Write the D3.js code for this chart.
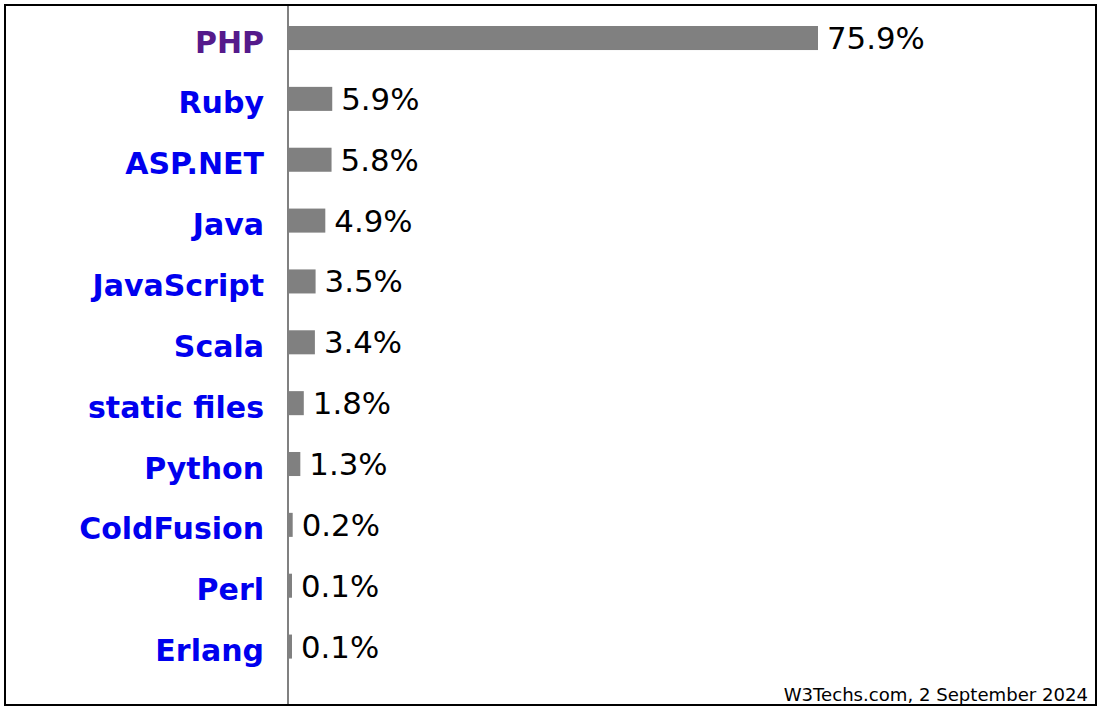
<!DOCTYPE html>
<html>
<head>
<meta charset="utf-8">
<script src="https://cdn.jsdelivr.net/npm/d3@7"></script>
<style>
  html, body { margin: 0; padding: 0; background: #fff; }
  svg { display: block; }
</style>
</head>
<body>
<script>
// server-side languages, share of websites
const languages = ["PHP", "Ruby", "ASP.NET", "Java", "JavaScript", "Scala",
  "static files", "Python", "ColdFusion", "Perl", "Erlang"];
const shares = [75.9, 5.9, 5.8, 4.9, 3.5, 3.4, 1.8, 1.3, 0.2, 0.1, 0.1];
const visited = ["PHP"];
const footer = "W3Techs.com, 2 September 2024";

const width = 1105, height = 709;
const axisX = 288;

const data = languages.map((d, i) => ({name: d, value: shares[i]}));

const svg = d3.select("body").append("svg")
  .attr("width", width)
  .attr("height", height);

const y = d3.scaleBand()
  .domain(languages)
  .range([7.6, 677])
  .paddingInner(0.605)
  .paddingOuter(0.3025);

// bars start a few pixels out from the axis even for tiny values
const x = d3.scaleLinear()
  .domain([0, 75.9])
  .range([3.3, 530]);

svg.append("g")
  .attr("fill", "#808080")
  .selectAll("rect")
  .data(data)
  .join("rect")
    .attr("x", axisX)
    .attr("y", d => y(d.name))
    .attr("width", d => x(d.value))
    .attr("height", y.bandwidth());

svg.append("line")
  .attr("x1", axisX).attr("x2", axisX)
  .attr("y1", 5).attr("y2", 705)
  .attr("stroke", "#808080")
  .attr("stroke-width", 2);

svg.append("g")
  .attr("font-family", "DejaVu Sans, Verdana, sans-serif")
  .attr("font-weight", "bold")
  .attr("font-size", 30)
  .attr("text-anchor", "end")
  .selectAll("text")
  .data(data)
  .join("text")
    .attr("x", 264)
    .attr("y", d => y(d.name) + y.bandwidth() / 2 + 14.5)
    .attr("fill", d => visited.includes(d.name) ? "#551a8b" : "#0000ee")
    .text(d => d.name);

svg.append("g")
  .attr("font-family", "DejaVu Sans, Verdana, sans-serif")
  .attr("font-size", 30.8)
  .attr("fill", "#000")
  .selectAll("text")
  .data(data)
  .join("text")
    .attr("x", d => axisX + x(d.value) + 9)
    .attr("y", d => y(d.name) + y.bandwidth() / 2 + 11)
    .text(d => d3.format(".1f")(d.value) + "%");

svg.append("text")
  .attr("x", 1088)
  .attr("y", 701)
  .attr("text-anchor", "end")
  .attr("font-family", "DejaVu Sans, Verdana, sans-serif")
  .attr("font-size", 18.1)
  .attr("fill", "#000")
  .text(footer);

svg.append("rect")
  .attr("x", 5).attr("y", 5)
  .attr("width", 1091).attr("height", 700)
  .attr("fill", "none")
  .attr("stroke", "#000")
  .attr("stroke-width", 2);
</script>
</body>
</html>
